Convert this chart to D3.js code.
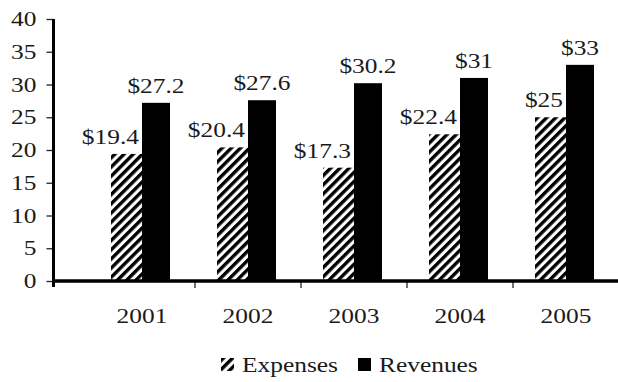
<!DOCTYPE html>
<html>
<head>
<meta charset="utf-8">
<script src="https://cdn.jsdelivr.net/npm/d3@7"></script>
<style>
  html, body { margin: 0; padding: 0; background: #fff; }
  svg { display: block; }
  text { font-family: "Liberation Serif", "Times New Roman", serif; fill: #1a1a1a; }
</style>
</head>
<body>
<svg id="chart" width="618" height="382"></svg>
<script>
// Yearly figures (in $ millions)
const years = ["2001", "2002", "2003", "2004", "2005"];
const expenses = [19.4, 20.4, 17.3, 22.4, 25];
const revenues = [27.2, 27.6, 30.2, 31, 33];
const yTicks = [0, 5, 10, 15, 20, 25, 30, 35, 40];
const seriesNames = ["Expenses", "Revenues"];

const W = 618, H = 382;
const axisX = 53.5, axisY = 281, topY = 19;
const stretch = 1.27;       // wide serif face
const fontSize = 20;

const svg = d3.select("#chart");

// diagonal hatch for the expense bars
const defs = svg.append("defs");
const pat = defs.append("pattern")
  .attr("id", "hatch")
  .attr("patternUnits", "userSpaceOnUse")
  .attr("width", 6.5).attr("height", 6.5)
  .attr("patternTransform", "rotate(45)");
pat.append("rect").attr("width", 6.5).attr("height", 6.5).attr("fill", "#fff");
pat.append("rect").attr("x", 0).attr("width", 3.4).attr("height", 6.5).attr("fill", "#000");

const y = d3.scaleLinear().domain([0, 40]).range([axisY, topY]);
const x = d3.scaleBand().domain(years).range([89, 619]).paddingInner(0).paddingOuter(0);
const half = x.bandwidth() / 2;

// horizontally widened text helper
function wideText(g, tx, ty, str, anchor) {
  return g.append("text")
    .attr("transform", `translate(${tx},${ty}) scale(${stretch},1)`)
    .attr("text-anchor", anchor)
    .attr("font-size", fontSize)
    .text(str);
}

// bars
const barsG = svg.append("g");
years.forEach((yr, i) => {
  const c = x(yr) + half;
  barsG.append("rect")
    .attr("x", c - 31).attr("width", 31)
    .attr("y", y(expenses[i])).attr("height", y(0) - y(expenses[i]))
    .attr("fill", "url(#hatch)");
  barsG.append("rect")
    .attr("x", c).attr("width", 28)
    .attr("y", y(revenues[i])).attr("height", y(0) - y(revenues[i]))
    .attr("fill", "#000");
});

// value labels
const labG = svg.append("g");
years.forEach((yr, i) => {
  const c = x(yr) + half;
  wideText(labG, c - 3, y(expenses[i]) - 10, "$" + expenses[i], "end");
  wideText(labG, c + 14, y(revenues[i]) - 10, "$" + revenues[i], "middle");
});

// y axis
const yAxis = svg.append("g")
  .attr("transform", `translate(${axisX},0)`)
  .call(d3.axisLeft(y).tickValues(yTicks).tickSize(7).tickPadding(10).tickFormat(d3.format("d")));
yAxis.select(".domain").remove();
yAxis.selectAll(".tick line").attr("stroke", "#222").attr("stroke-width", 1.3);
yAxis.selectAll(".tick text").each(function () {
  const t = d3.select(this);
  const tx = +t.attr("x");
  t.attr("x", 0).attr("dy", null)
   .attr("transform", `translate(${tx},6.5) scale(${stretch},1)`)
   .attr("font-size", fontSize).attr("font-family", null).attr("fill", null);
});
svg.append("line")
  .attr("x1", axisX).attr("x2", axisX)
  .attr("y1", topY).attr("y2", axisY + 6)
  .attr("stroke", "#000").attr("stroke-width", 3);

// x axis
const bounds = years.slice(1).map(yr => x(yr)).concat([x.range()[1]]);
const xAxis = svg.append("g").attr("transform", `translate(0,${axisY})`);
xAxis.selectAll("line.tk").data(bounds).join("line")
  .attr("class", "tk")
  .attr("x1", d => d).attr("x2", d => d)
  .attr("y1", 0).attr("y2", 7)
  .attr("stroke", "#222").attr("stroke-width", 1.3);
xAxis.append("line")
  .attr("x1", axisX - 1.5).attr("x2", W)
  .attr("y1", 0).attr("y2", 0)
  .attr("stroke", "#000").attr("stroke-width", 3.5);
years.forEach(yr => {
  wideText(xAxis, x(yr) + half, 42, yr, "middle");
});

// legend
const legG = svg.append("g");
const legY = 372;
const sw = 13;
const items = [
  { name: seriesNames[0], fill: "url(#hatch)", x0: 221 },
  { name: seriesNames[1], fill: "#000", x0: 358 }
];
items.forEach(it => {
  legG.append("rect")
    .attr("x", it.x0).attr("y", legY - sw - 1)
    .attr("width", sw).attr("height", sw)
    .attr("fill", it.fill);
  wideText(legG, it.x0 + sw + 8, legY, it.name, "start");
});
</script>
</body>
</html>
